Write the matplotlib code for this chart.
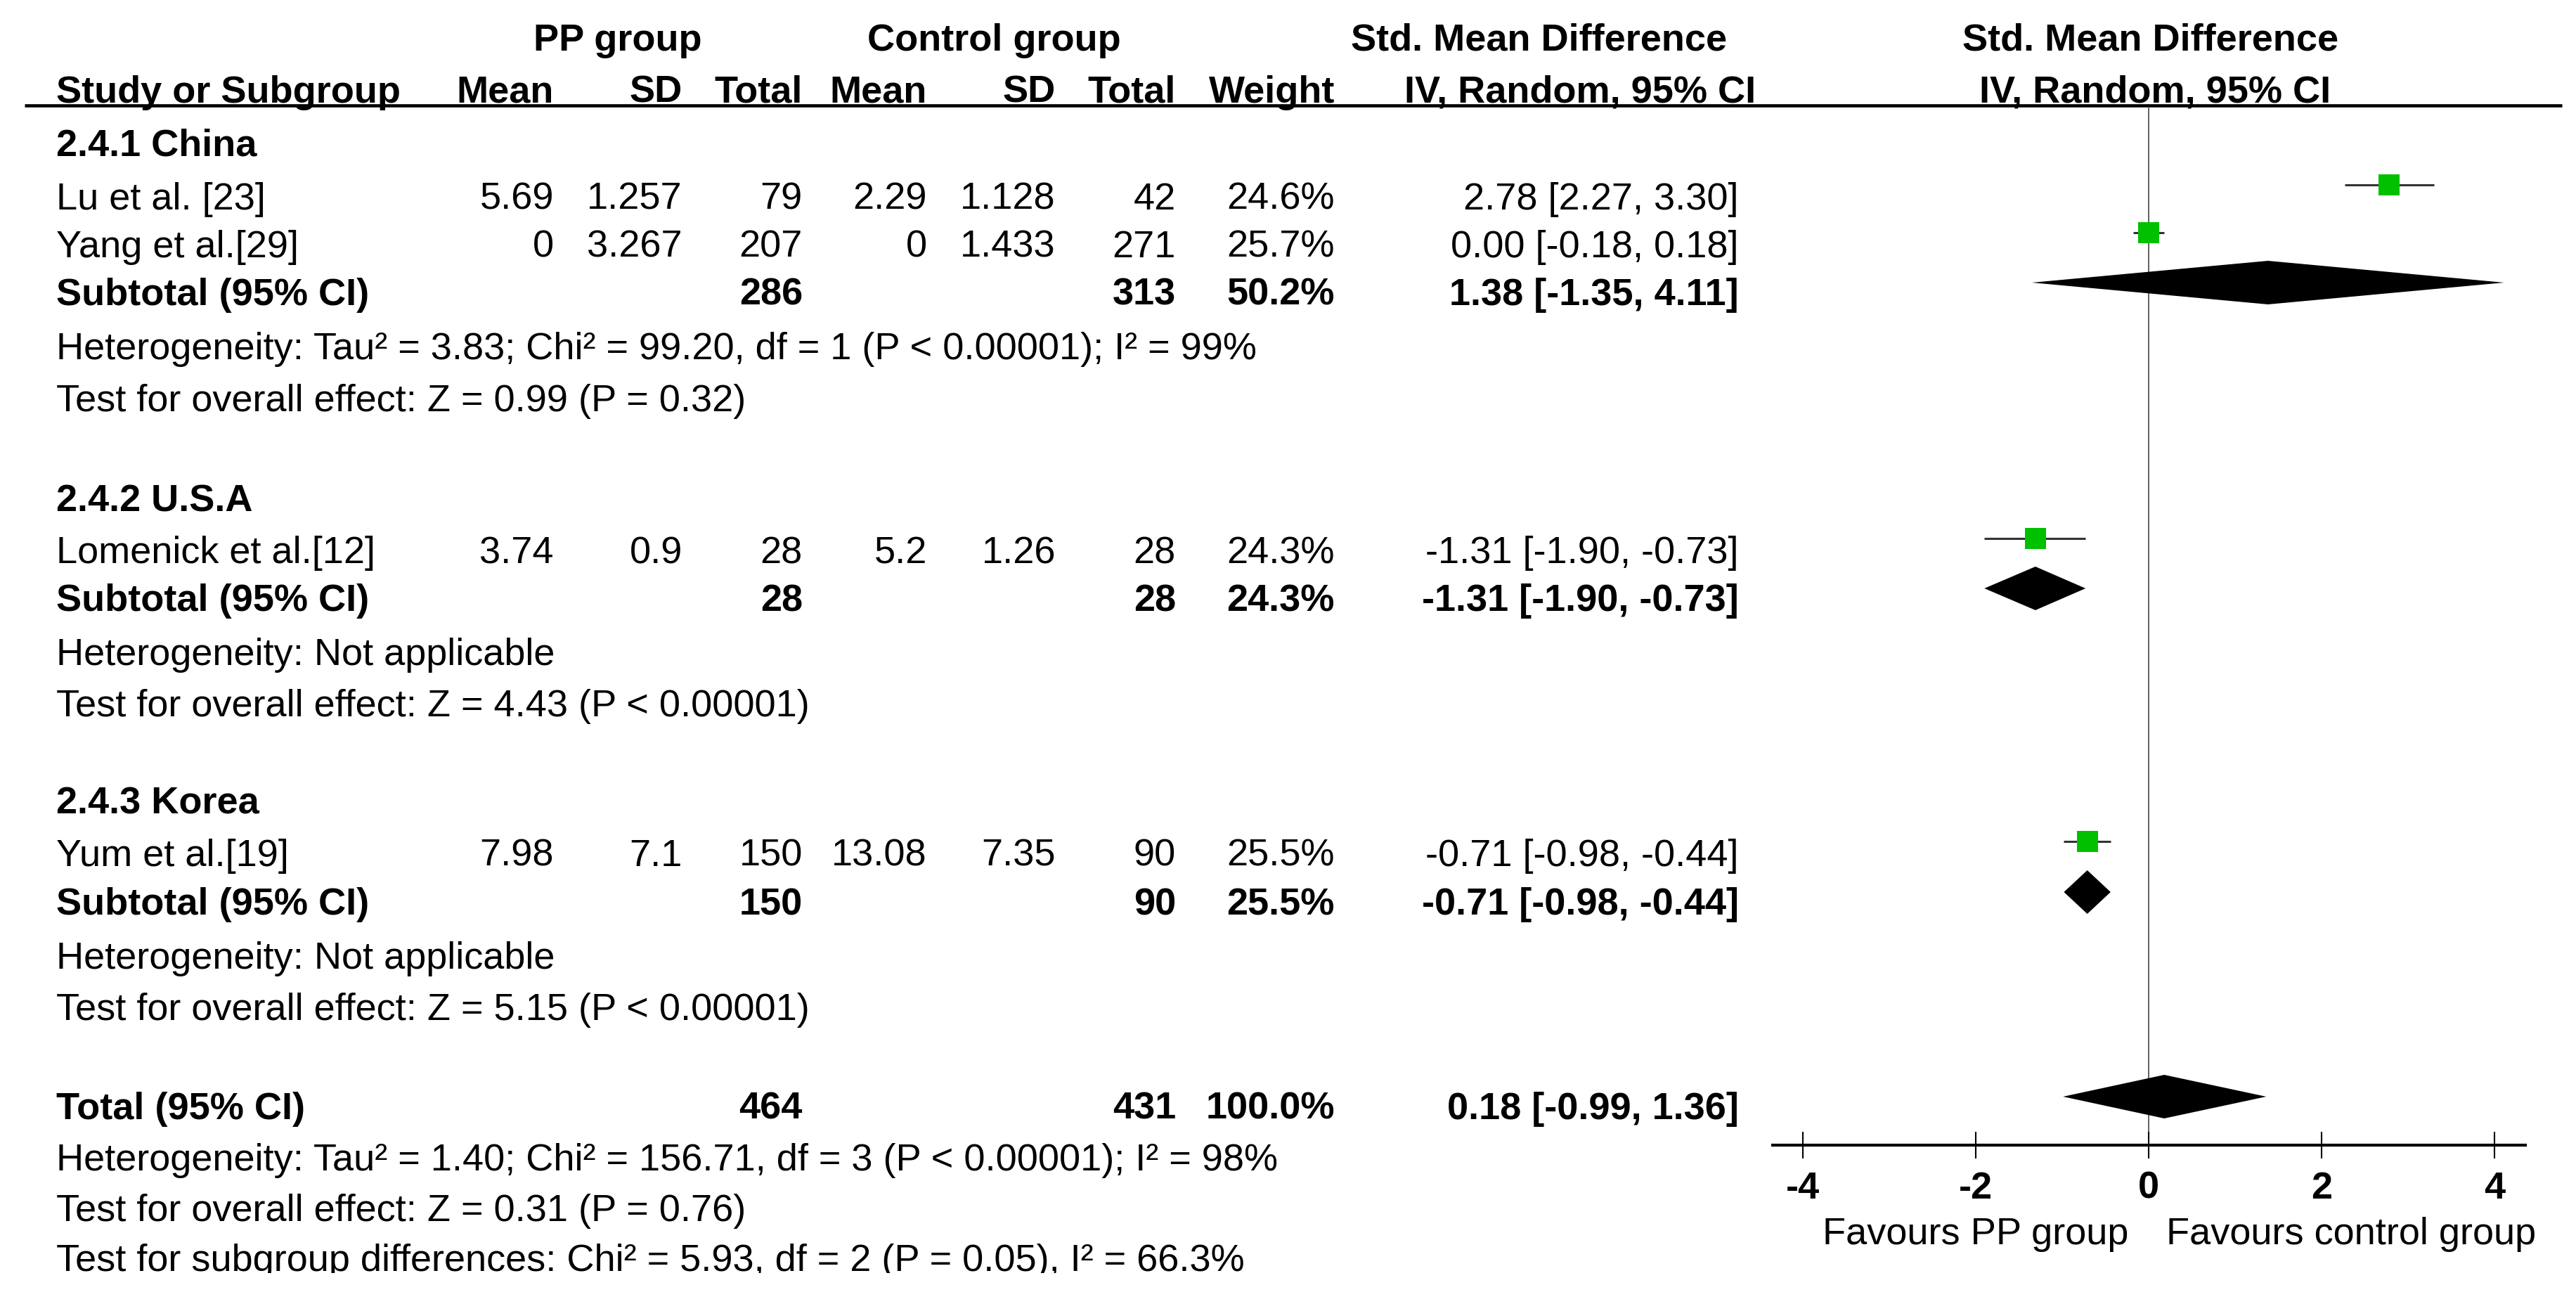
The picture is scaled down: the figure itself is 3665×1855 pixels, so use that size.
import matplotlib
matplotlib.use("Agg")
import matplotlib.pyplot as plt
from matplotlib.patches import Polygon
from matplotlib.transforms import Bbox

# ---- data ----
groups = ["2.4.1 China", "2.4.2 U.S.A", "2.4.3 Korea"]
studies = ["Lu et al. [23]", "Yang et al.[29]", "Lomenick et al.[12]", "Yum et al.[19]"]
pp_mean = [5.69, 0, 3.74, 7.98]
pp_sd = [1.257, 3.267, 0.9, 7.1]
pp_n = [79, 207, 28, 150]
ct_mean = [2.29, 0, 5.2, 13.08]
ct_sd = [1.128, 1.433, 1.26, 7.35]
ct_n = [42, 271, 28, 90]
weight = [24.6, 25.7, 24.3, 25.5]
smd = [2.78, 0.00, -1.31, -0.71]
smd_lo = [2.27, -0.18, -1.90, -0.98]
smd_hi = [3.30, 0.18, -0.73, -0.44]

sub_pp_n = [286, 28, 150]
sub_ct_n = [313, 28, 90]
sub_weight = [50.2, 24.3, 25.5]
sub_smd = [1.38, -1.31, -0.71]
sub_lo = [-1.35, -1.90, -0.98]
sub_hi = [4.11, -0.73, -0.44]
sub_het = ["Heterogeneity: Tau\u00b2 = 3.83; Chi\u00b2 = 99.20, df = 1 (P < 0.00001); I\u00b2 = 99%",
           "Heterogeneity: Not applicable",
           "Heterogeneity: Not applicable"]
sub_test = ["Test for overall effect: Z = 0.99 (P = 0.32)",
            "Test for overall effect: Z = 4.43 (P < 0.00001)",
            "Test for overall effect: Z = 5.15 (P < 0.00001)"]

tot_pp_n, tot_ct_n, tot_weight = 464, 431, 100.0
tot_smd, tot_lo, tot_hi = 0.18, -0.99, 1.36
tot_het = "Heterogeneity: Tau\u00b2 = 1.40; Chi\u00b2 = 156.71, df = 3 (P < 0.00001); I\u00b2 = 98%"
tot_test = "Test for overall effect: Z = 0.31 (P = 0.76)"
subgroup_test = "Test for subgroup differences: Chi\u00b2 = 5.93, df = 2 (P = 0.05), I\u00b2 = 66.3%"

xticks = [-4, -2, 0, 2, 4]

# ---- layout (pixels) ----
W, H = 3666, 1855
FS = 39
group_y = [222, 727, 1158]
study_y = [298, 366, 801, 1232]
sub_y = [434, 869, 1301]
het_y = [511, 946, 1378]
test_y = [585, 1019, 1451]
total_y, total_het_y, total_test_y, subgroup_y = 1592, 1665, 1737, 1808
col = dict(name=80, pm=788, psd=971, pn=1142, cm=1319, csd=1502, cn=1673, w=1899, ci=2474)
zero_px, unit_px = 3057, 123
axis_y = 1629

plt.rcParams["font.family"] = ["Liberation Sans", "DejaVu Sans"]
plt.rcParams["axes.unicode_minus"] = False

fig = plt.figure(figsize=(W / 100, H / 100), dpi=100)
tx = fig.add_axes([0, 0, 1, 1])
tx.set_xlim(0, W)
tx.set_ylim(H, 0)
tx.axis("off")


def put(x, y, s, ha="left", bold=False):
    return tx.text(x, y, s, ha=ha, va="baseline", fontsize=FS,
                   fontweight="bold" if bold else "normal", color="black")


def ci_str(e, lo, hi):
    return f"{e:.2f} [{lo:.2f}, {hi:.2f}]"


# headers
put(879, 72, "PP group", ha="center", bold=True)
put(1414, 72, "Control group", ha="center", bold=True)
put(2190, 72, "Std. Mean Difference", ha="center", bold=True)
put(3060, 72, "Std. Mean Difference", ha="center", bold=True)
put(col["name"], 146, "Study or Subgroup", bold=True)
put(col["pm"], 146, "Mean", ha="right", bold=True)
put(col["psd"], 146, "SD", ha="right", bold=True)
put(col["pn"], 146, "Total", ha="right", bold=True)
put(col["cm"], 146, "Mean", ha="right", bold=True)
put(col["csd"], 146, "SD", ha="right", bold=True)
put(col["cn"], 146, "Total", ha="right", bold=True)
put(col["w"], 146, "Weight", ha="right", bold=True)
put(2498, 146, "IV, Random, 95% CI", ha="right", bold=True)
put(3066, 146, "IV, Random, 95% CI", ha="center", bold=True)
tx.hlines(150, 35, 3645, color="black", lw=3.3)

# study rows
for i, name in enumerate(studies):
    y = study_y[i]
    put(col["name"], y, name)
    put(col["pm"], y, f"{pp_mean[i]:g}", ha="right")
    put(col["psd"], y, f"{pp_sd[i]:g}", ha="right")
    put(col["pn"], y, f"{pp_n[i]}", ha="right")
    put(col["cm"], y, f"{ct_mean[i]:g}", ha="right")
    put(col["csd"], y, f"{ct_sd[i]:g}", ha="right")
    put(col["cn"], y, f"{ct_n[i]}", ha="right")
    put(col["w"], y, f"{weight[i]:.1f}%", ha="right")
    put(col["ci"], y, ci_str(smd[i], smd_lo[i], smd_hi[i]), ha="right")

# subgroup blocks
for g, gname in enumerate(groups):
    put(col["name"], group_y[g], gname, bold=True)
    y = sub_y[g]
    put(col["name"], y, "Subtotal (95% CI)", bold=True)
    put(col["pn"], y, f"{sub_pp_n[g]}", ha="right", bold=True)
    put(col["cn"], y, f"{sub_ct_n[g]}", ha="right", bold=True)
    put(col["w"], y, f"{sub_weight[g]:.1f}%", ha="right", bold=True)
    put(col["ci"], y, ci_str(sub_smd[g], sub_lo[g], sub_hi[g]), ha="right", bold=True)
    put(col["name"], het_y[g], sub_het[g])
    put(col["name"], test_y[g], sub_test[g])

# overall
put(col["name"], total_y, "Total (95% CI)", bold=True)
put(col["pn"], total_y, f"{tot_pp_n}", ha="right", bold=True)
put(col["cn"], total_y, f"{tot_ct_n}", ha="right", bold=True)
put(col["w"], total_y, f"{tot_weight:.1f}%", ha="right", bold=True)
put(col["ci"], total_y, ci_str(tot_smd, tot_lo, tot_hi), ha="right", bold=True)
put(col["name"], total_het_y, tot_het)
put(col["name"], total_test_y, tot_test)
last = put(col["name"], subgroup_y, subgroup_test)
# the source image is cut just below this line's baseline
(x0, y0), (x1, y1) = tx.transData.transform([(0, subgroup_y + 3), (W, 0)])
last.set_clip_box(Bbox.from_extents(min(x0, x1), min(y0, y1), max(x0, x1), max(y0, y1)))
last.set_clip_on(True)

put(3028, 1770, "Favours PP group", ha="right")
put(3082, 1770, "Favours control group", ha="left")

# ---- forest panel ----
left_px, right_px = 2522, 3593
fx = fig.add_axes([left_px / W, 0, (right_px - left_px) / W, 1])
fx.set_xlim((left_px - zero_px) / unit_px, (right_px - zero_px) / unit_px)
fx.set_ylim(H, 0)
fx.patch.set_visible(False)
for s in ["left", "right", "top"]:
    fx.spines[s].set_visible(False)
fx.spines["bottom"].set_position(("data", axis_y))
fx.spines["bottom"].set_linewidth(3)
fx.set_yticks([])
fx.set_xticks(xticks, [f"{t:g}" for t in xticks], fontweight="bold")
fx.tick_params(axis="x", direction="inout", length=27, width=1.5, pad=13,
               labelsize=FS, colors="black")

fx.vlines(0, 152, axis_y, color="#555555", lw=1.3, zorder=1)

mark_y = [y - 35 for y in study_y]
fx.hlines(mark_y, smd_lo, smd_hi, color="#333333", lw=2.2, zorder=2)
fx.scatter(smd, mark_y, marker="s", s=[w * 18.5 for w in weight],
           color="#00c000", linewidths=0, zorder=3)

half_h = 31
dia = [(sub_smd[g], sub_lo[g], sub_hi[g], sub_y[g] - 32) for g in range(len(groups))]
dia.append((tot_smd, tot_lo, tot_hi, total_y - 32))
for e, lo, hi, y in dia:
    fx.add_patch(Polygon([(lo, y), (e, y - half_h), (hi, y), (e, y + half_h)],
                         closed=True, facecolor="black", edgecolor="none", zorder=3))

fig.savefig("out.png", dpi=100)
